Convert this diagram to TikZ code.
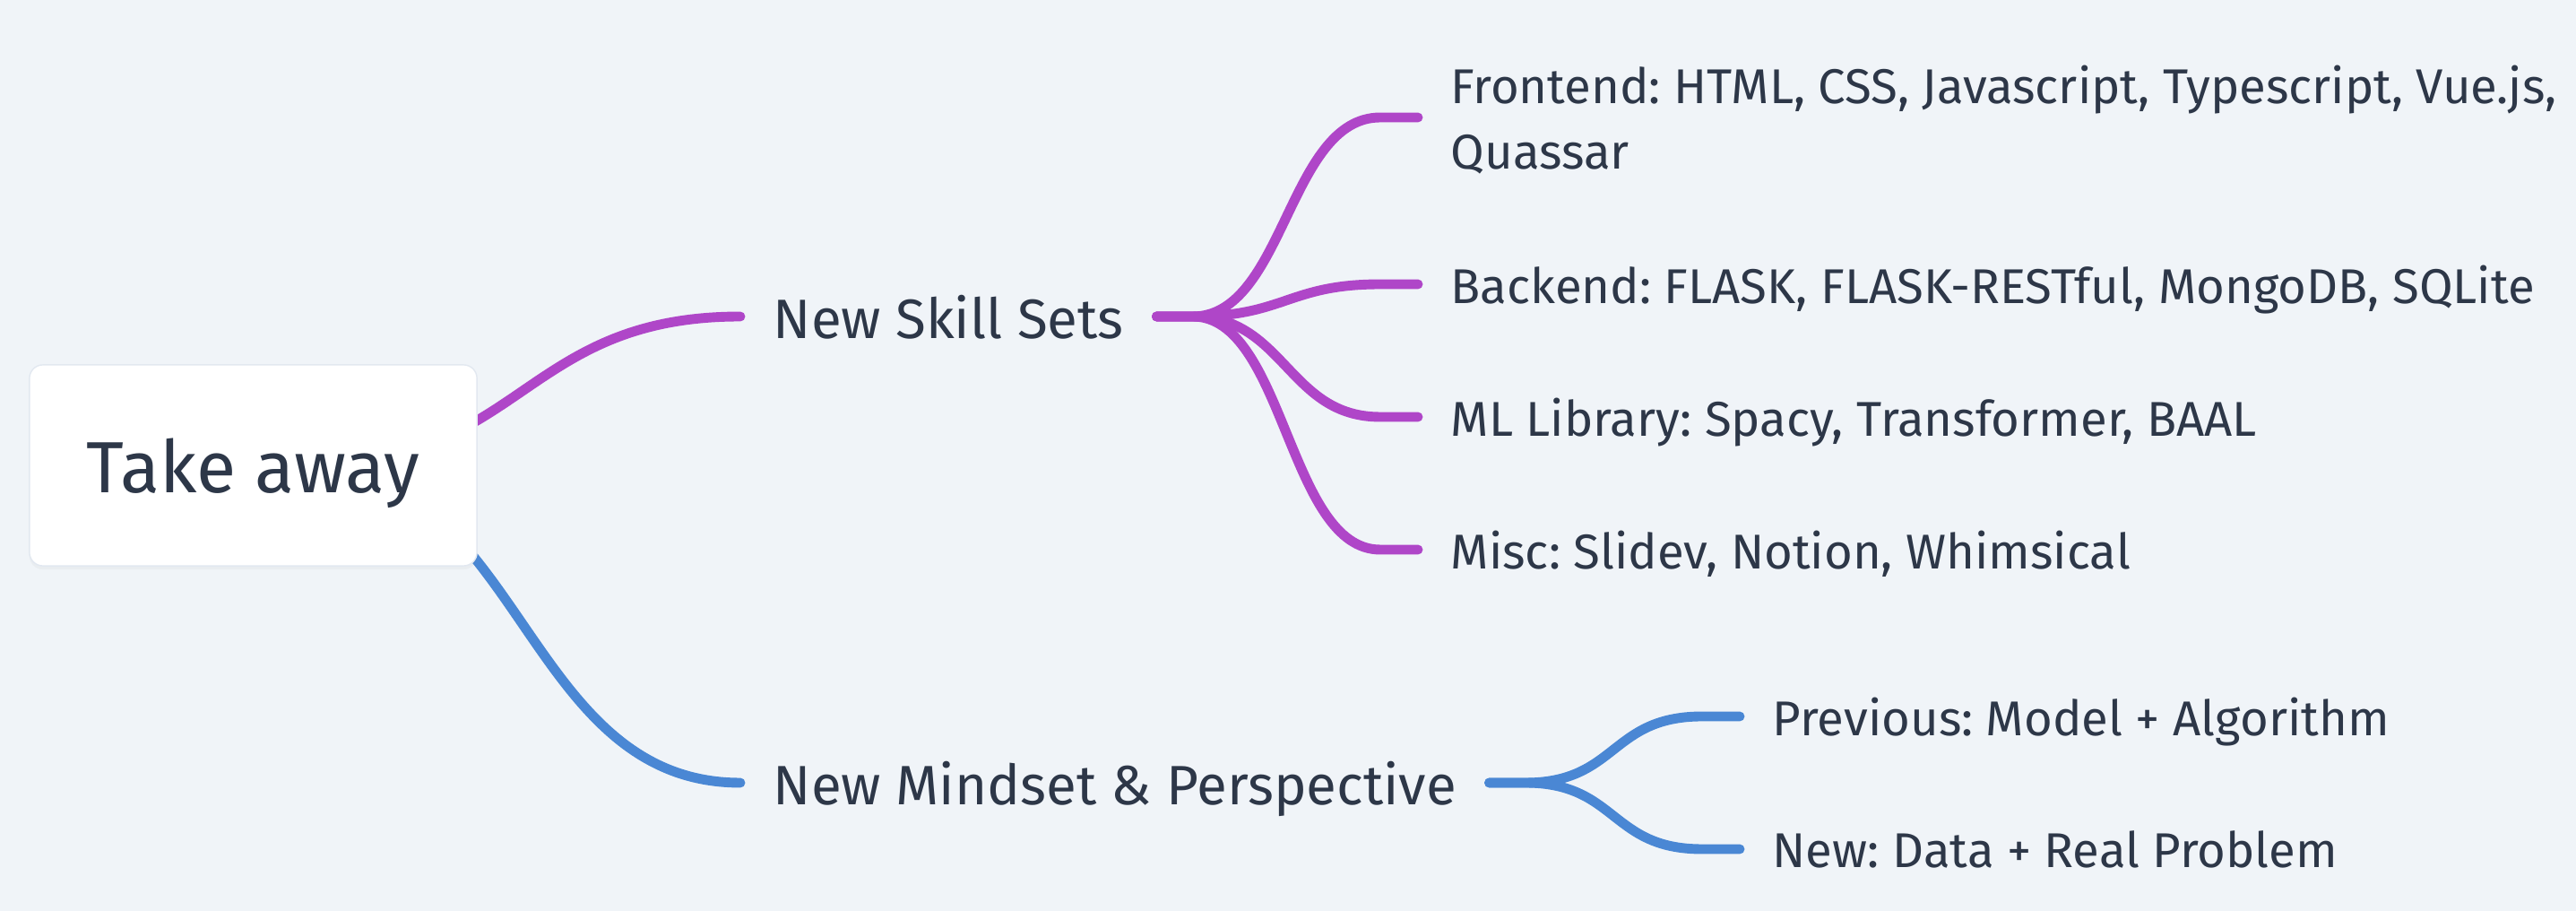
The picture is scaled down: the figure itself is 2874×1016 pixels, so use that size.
\documentclass[tikz,border=0pt]{standalone}
\usepackage{fontspec}
\setmainfont{Fira Sans}
\frenchspacing
\usetikzlibrary{shadows}

\definecolor{canvas}{HTML}{F0F4F8}
\definecolor{ink}{HTML}{2D3748}
\definecolor{boxline}{HTML}{E2E8F0}
\definecolor{skillpurple}{HTML}{AF46C8}
\definecolor{mindblue}{HTML}{4A87D4}

\tikzset{
  rootbox/.style={draw=boxline, fill=white, rounded corners=0.15cm,
    minimum width=4.99cm, minimum height=2.24cm, text=ink, text depth=0pt,
    drop shadow={opacity=0.06, shadow xshift=0pt, shadow yshift=-0.04cm},
    font=\fontsize{23}{28}\selectfont},
  topic/.style={anchor=west, inner xsep=0.36cm, inner ysep=0pt, text depth=0pt,
    text=ink, font=\fontsize{17.6}{22}\selectfont},
  leaf/.style={topic, align=left, font=\fontsize{15.5}{20.8}\selectfont},
  skillline/.style={draw=skillpurple, line width=3.1pt, line cap=round},
  mindline/.style={draw=mindblue, line width=3.1pt, line cap=round},
}

\begin{document}
\begin{tikzpicture}[x=0.01cm, y=-0.01cm]
        \fill[canvas] (0,0) rectangle (2874,1016);
        \useasboundingbox (0,0) rectangle (2874,1016);
        %
        \coordinate (rootout) at (340,519);
        \node[topic] (skills) at (826,353) {New Skill Sets};
        \node[topic] (mindset) at (826,873) {New Mindset \& Perspective};
        \node[leaf] (front) at (1582,131) {Frontend: HTML, CSS, Javascript, Typescript, Vue.js,\\Quassar};
        \node[leaf] (back) at (1582,317) {Backend: FLASK, FLASK-RESTful, MongoDB, SQLite};
        \node[leaf] (mllib) at (1582,465) {ML Library: Spacy, Transformer, BAAL};
        \node[leaf] (misc) at (1582,613) {Misc: Slidev, Notion, Whimsical};
        \node[leaf] (prev) at (1941,799) {Previous: Model + Algorithm};
        \node[leaf] (newdata) at (1941,947) {New: Data + Real Problem};
        %
        \draw[skillline] (rootout) .. controls +(243,0) and +(-243,0) .. (skills.west);
        \draw[mindline] (rootout) .. controls +(243,0) and +(-243,0) .. (mindset.west);
        %
        \draw[skillline] (skills.east) -- ++(40,0) .. controls +(103,0) and +(-103,0) .. ([xshift=-0.42cm]front.west) -- (front.west);
        \draw[skillline] (skills.east) -- ++(40,0) .. controls +(103,0) and +(-103,0) .. ([xshift=-0.42cm]back.west) -- (back.west);
        \draw[skillline] (skills.east) -- ++(40,0) .. controls +(103,0) and +(-103,0) .. ([xshift=-0.42cm]mllib.west) -- (mllib.west);
        \draw[skillline] (skills.east) -- ++(40,0) .. controls +(103,0) and +(-103,0) .. ([xshift=-0.42cm]misc.west) -- (misc.west);
        %
        \draw[mindline] (mindset.east) -- ++(40,0) .. controls +(103,0) and +(-103,0) .. ([xshift=-0.42cm]prev.west) -- (prev.west);
        \draw[mindline] (mindset.east) -- ++(40,0) .. controls +(103,0) and +(-103,0) .. ([xshift=-0.42cm]newdata.west) -- (newdata.west);
        %
        \node[rootbox] (root) at (282.5,519) {Take away};
\end{tikzpicture}
\end{document}
